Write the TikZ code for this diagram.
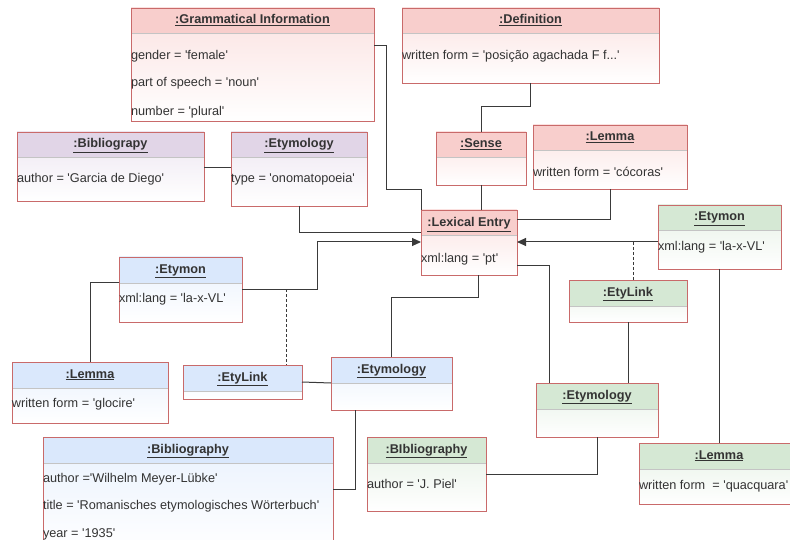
\documentclass[tikz,border=0pt]{standalone}
\usepackage{fontspec}
\setmainfont{Liberation Sans}[Ligatures=TeXOff]
\usepackage{tikz}
\usetikzlibrary{calc,arrows.meta}
\definecolor{redfill}{HTML}{F8CECC}
\definecolor{bluefill}{HTML}{DAE8FC}
\definecolor{greenfill}{HTML}{D5E8D4}
\definecolor{purplefill}{HTML}{E1D5E7}
\definecolor{boxedge}{HTML}{C96A6A}
\definecolor{sepgray}{HTML}{C4C4C4}
\definecolor{textgray}{HTML}{333333}
\definecolor{linegray}{HTML}{3A3A3A}

\begin{document}
\begin{tikzpicture}[x=1pt,y=-1pt,
    every node/.style={font=\fontsize{12.7}{15}\selectfont, text=textgray, inner sep=0, outer sep=0},
    obj/.style={draw=boxedge, line width=.9pt, anchor=north west, top color=#1!60, bottom color=white,
      path picture={\fill[#1] (path picture bounding box.north west) rectangle ([yshift=-26pt]path picture bounding box.north east);
        \draw[sepgray, line width=1pt] ([yshift=-26pt]path picture bounding box.north west) -- ([yshift=-26pt]path picture bounding box.north east);}},
    head/.style={font=\fontsize{12.7}{15}\selectfont\bfseries, anchor=base},
    attr/.style={anchor=base west},
    link/.style={draw=linegray, line width=1pt},
    dashlink/.style={link, dash pattern=on 3pt off 2pt},
    arrowlink/.style={link, -{Triangle[length=9pt,width=8pt]}}]
      \useasboundingbox (0,0) rectangle (790,540);
      \clip (0,0) rectangle (790,540);

      \node[obj=redfill, minimum width=243, minimum height=113] (gi) at (131,8) {};
      \node[head] (gi-h) at ([yshift=-16pt]gi.north) {\underline{:Grammatical Information}};
      \node[attr] (gi-1) at ([yshift=-52pt]gi.north west) {gender = 'female'};
      \node[attr] (gi-2) at ([yshift=-79pt]gi.north west) {part of speech = 'noun'};
      \node[attr] (gi-3) at ([yshift=-108pt]gi.north west) {number = 'plural'};

      \node[obj=redfill, minimum width=257, minimum height=75] (def) at (402,8) {};
      \node[head] (def-h) at ([yshift=-16pt]def.north) {\underline{:Definition}};
      \node[attr] (def-1) at ([yshift=-52pt]def.north west) {written form = 'posição agachada F f...'};

      \node[obj=redfill, minimum width=90, minimum height=53] (sense) at (436,132) {};
      \node[head] (sense-h) at ([yshift=-16pt]sense.north) {\underline{:Sense}};

      \node[obj=redfill, minimum width=154, minimum height=64] (lemr) at (533,125) {};
      \node[head] (lemr-h) at ([yshift=-16pt]lemr.north) {\underline{:Lemma}};
      \node[attr] (lemr-1) at ([yshift=-52pt]lemr.north west) {written form = 'cócoras'};

      \node[obj=redfill, minimum width=96, minimum height=65] (le) at (421,210) {};
      \node[head] (le-h) at ([yshift=-17pt]le.north) {\underline{:Lexical Entry}};
      \node[attr] (le-1) at ([yshift=-52pt]le.north west) {xml:lang = 'pt'};

      \node[obj=purplefill, minimum width=187, minimum height=69] (bibp) at (17,132) {};
      \node[head] (bibp-h) at ([yshift=-16pt]bibp.north) {\underline{:Bibliograpy}};
      \node[attr] (bibp-1) at ([yshift=-51pt]bibp.north west) {author = 'Garcia de Diego'};

      \node[obj=purplefill, minimum width=136, minimum height=74] (etyp) at (231,132) {};
      \node[head] (etyp-h) at ([yshift=-16pt]etyp.north) {\underline{:Etymology}};
      \node[attr] (etyp-1) at ([yshift=-51pt]etyp.north west) {type = 'onomatopoeia'};

      \node[obj=bluefill, minimum width=123, minimum height=65] (etymb) at (119,257) {};
      \node[head] (etymb-h) at ([yshift=-16pt]etymb.north) {\underline{:Etymon}};
      \node[attr] (etymb-1) at ([yshift=-45pt]etymb.north west) {xml:lang = 'la-x-VL'};

      \node[obj=bluefill, minimum width=156, minimum height=61] (lemb) at (12,362) {};
      \node[head] (lemb-h) at ([yshift=-16pt]lemb.north) {\underline{:Lemma}};
      \node[attr] (lemb-1) at ([yshift=-45pt]lemb.north west) {written form = 'glocire'};

      \node[obj=bluefill, minimum width=119, minimum height=34] (etlb) at (183,365) {};
      \node[head] (etlb-h) at ([yshift=-16pt]etlb.north) {\underline{:EtyLink}};

      \node[obj=bluefill, minimum width=121, minimum height=53] (etyb) at (331,357) {};
      \node[head] (etyb-h) at ([yshift=-16pt]etyb.north) {\underline{:Etymology}};

      \node[obj=bluefill, minimum width=290, minimum height=115] (bibb) at (43,437) {};
      \node[head] (bibb-h) at ([yshift=-16pt]bibb.north) {\underline{:Bibliography}};
      \node[attr] (bibb-1) at ([yshift=-45pt]bibb.north west) {author ='Wilhelm Meyer-Lübke'};
      \node[attr] (bibb-2) at ([yshift=-72pt]bibb.north west) {title = 'Romanisches etymologisches Wörterbuch'};
      \node[attr] (bibb-3) at ([yshift=-100pt]bibb.north west) {year = '1935'};

      \node[obj=greenfill, minimum width=123, minimum height=64] (etymg) at (658,205) {};
      \node[head] (etymg-h) at ([yshift=-16pt]etymg.north) {\underline{:Etymon}};
      \node[attr] (etymg-1) at ([yshift=-46pt]etymg.north west) {xml:lang = 'la-x-VL'};

      \node[obj=greenfill, minimum width=118, minimum height=42] (etlg) at (569,280) {};
      \node[head] (etlg-h) at ([yshift=-16pt]etlg.north) {\underline{:EtyLink}};

      \node[obj=greenfill, minimum width=122, minimum height=54] (etyg) at (536,383) {};
      \node[head] (etyg-h) at ([yshift=-16pt]etyg.north) {\underline{:Etymology}};

      \node[obj=greenfill, minimum width=119, minimum height=74] (bibg) at (367,437) {};
      \node[head] (bibg-h) at ([yshift=-16pt]bibg.north) {\underline{:BIbliography}};
      \node[attr] (bibg-1) at ([yshift=-51pt]bibg.north west) {author = 'J. Piel'};

      \node[obj=greenfill, minimum width=160, minimum height=61] (lemg) at (639,443) {};
      \node[head] (lemg-h) at ([yshift=-16pt]lemg.north) {\underline{:Lemma}};
      \node[attr] (lemg-1) at ([yshift=-46pt]lemg.north west) {written form~ = 'quacquara'};

      \coordinate (jb) at (286,289);
      \coordinate (jg) at (633,242);

      \draw[link] ([yshift=-38pt]gi.north east) -| ++(12,144) -| (le.north west);
      \draw[link] (def.south) -- ++(0,24) -| (sense.north);
      \draw[link] (sense.south) -- (sense.south |- le.north);
      \draw[link] (lemr.south) |- ([yshift=-10pt]le.north east);
      \draw[link] ([yshift=-36pt]bibp.north east) -- ([yshift=-36pt]etyp.north west);
      \draw[link] (etyp.south) |- ([yshift=-23pt]le.north west);
      \draw[arrowlink] ([yshift=-32pt]etymb.north east) -| ++(75,-47) -- ([yshift=-32pt]le.north west);
      \draw[dashlink] (jb) -- (jb |- etlb.north);
      \draw[arrowlink] ([yshift=-37pt]etymg.north west) -- ([yshift=-32pt]le.north east);
      \draw[dashlink] (jg) -- (jg |- etlg.north);
      \draw[link] ([xshift=9pt]le.south) -- ++(0,22) -| (etyb.north);
      \draw[link] ([yshift=-56pt]le.north east) -| ([xshift=13pt]etyg.north west);
      \draw[link] (etlg.south) -- (etlg.south |- etyg.north);
      \draw[link] (etymg.south) -- (etymg.south |- lemg.north);
      \draw[link] (etyg.south) |- ([yshift=-37pt]bibg.north east);
      \draw[link] ([yshift=-17pt]etlb.north east) -- ([yshift=-26pt]etyb.north west);
      \draw[link] ([yshift=-25pt]etymb.north west) -| (lemb.north);
      \draw[link] ([xshift=24pt]etyb.south west) |- ([yshift=-52pt]bibb.north east);

    \end{tikzpicture}
\end{document}
